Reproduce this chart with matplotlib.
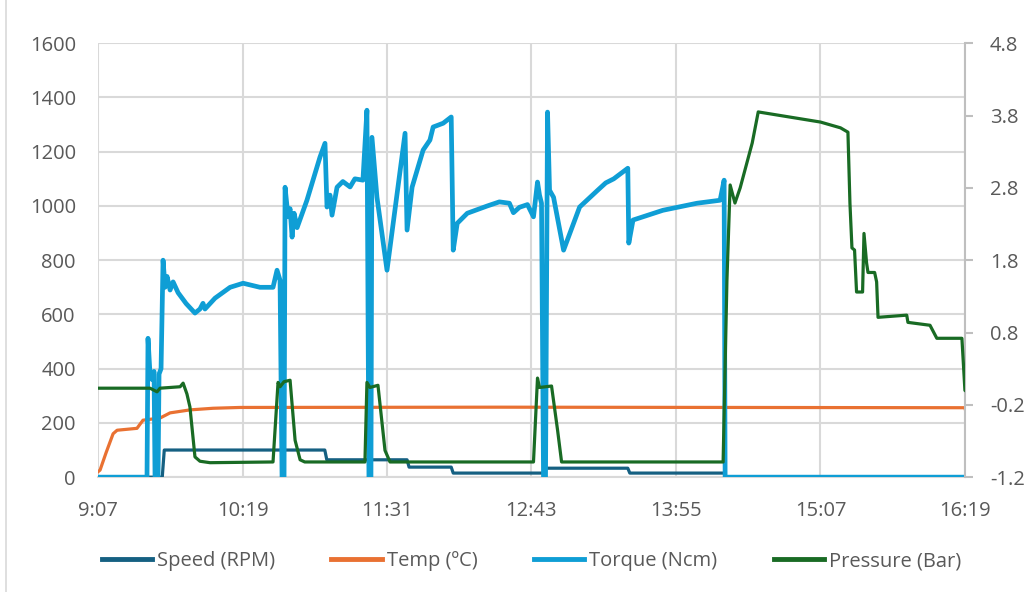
import matplotlib.pyplot as plt
from matplotlib.lines import Line2D

plt.rcParams['font.family'] = ['Open Sans', 'DejaVu Sans']

# time in minutes after 9:07
speed_t = [0, 32, 33, 113, 114, 154, 155, 176, 177, 222, 223, 264, 265, 312, 313, 432]
speed_v = [0, 0, 100, 100, 64, 64, 37, 37, 15, 15, 33, 33, 15, 15, 0, 0]

temp_t = [0, 1, 4, 7.5, 9.5, 19.4, 22.4, 30.9, 35.9, 45.8, 57.3, 70.8, 200, 432, 432.5]
temp_v = [20, 26, 90, 160, 173, 180, 210, 218, 237, 248, 254, 257, 258, 256, 240]

torque_t = [0, 24.4, 24.9, 25.9, 26.9, 27.9, 28.4, 29.9, 30.4, 31.4, 32.4, 33.4, 34.4,
            35.9, 37.4, 39.9, 43.9, 48.3, 50.8, 52.3, 53.3, 58.3, 65.8, 72.3, 80.7,
            87.2, 89.2, 90.7, 91.7, 92.7, 93.2, 94.7, 95.7, 96.7, 97.7, 99.2, 104.1,
            110.6, 113.1, 114.1, 115.6, 116.6, 119.1, 122, 125.6, 128, 132, 134, 135, 136,
            136.5, 139, 144, 153, 154, 156.5, 162, 165.4, 167, 172, 176, 177, 179,
            184, 194, 200, 205, 207, 210, 214, 217, 219, 220, 221, 222, 223, 224, 225, 227, 232,
            240, 249, 253, 257, 264, 264.5, 266.6, 281.5, 298.5, 310, 312, 312.5, 432]
torque_v = [0, 0, 512, 380, 360, 390, 0, 0, 380, 400, 800, 700, 740,
            690, 720, 680, 640, 605, 620, 641, 620, 660, 700, 715, 700,
            700, 763, 726, 0, 0, 1069, 960, 990, 885, 973, 920, 1021,
            1180, 1231, 996, 1040, 966, 1069, 1090, 1070, 1100, 1095, 1353, 0, 0,
            1253, 1032, 763, 1268, 911, 1069, 1206, 1243, 1291, 1305, 1328, 837, 936,
            973, 1000, 1015, 1010, 975, 995, 1005, 960, 1088, 1040, 1010, 0, 0, 1346, 1058, 1032, 837,
            996, 1058, 1085, 1100, 1139, 863, 948, 984, 1010, 1021, 1095, 0, 0]

pres_t = [0, 25.9, 29.4, 30.9, 40.9, 42.4, 44.3, 45.8, 48.3, 50.8, 55.8, 87.2,
          89.7, 90.7, 92.7, 95.7, 98.2, 100.7, 103, 133, 134, 135.5, 139.5, 143,
          145.5, 217, 219, 220, 226, 229, 231, 311.5, 313.4, 315, 317.4, 320, 326,
          329, 360, 370, 373.7, 374.7, 375.7, 377, 378, 381, 381.7, 383, 383.7,
          387, 388, 388.7, 403, 403.6, 414.6, 418, 430.5, 432, 433]
pres_v = [0.03, 0.03, -0.02, 0.03, 0.05, 0.10, -0.05, -0.23, -0.92, -0.98, -1.0, -0.99,
          0.11, 0.05, 0.12, 0.14, -0.69, -0.96, -0.99, -0.99, 0.11, 0.04, 0.07, -0.83,
          -0.99, -0.99, 0.17, 0.04, 0.06, -0.55, -0.99, -0.99, 1.52, 2.84, 2.59, 2.80, 3.42,
          3.85, 3.71, 3.63, 3.57, 2.59, 1.97, 1.94, 1.36, 1.36, 2.17, 1.76, 1.63,
          1.63, 1.50, 1.01, 1.04, 0.94, 0.90, 0.72, 0.72, 0.00, -0.02]

tick_labels = ['9:07', '10:19', '11:31', '12:43', '13:55', '15:07', '16:19']

c_speed = '#156082'
c_temp = '#E97132'
c_torque = '#0F9ED5'
c_pres = '#196B24'
grid_c = '#D9D9D9'
text_c = '#595959'

fig = plt.figure(figsize=(10.32, 5.92), dpi=100)
ax = fig.add_axes([0.095, 0.194, 0.84, 0.733])
ax2 = ax.twinx()

lw = 2.3
ax.plot(speed_t, speed_v, color=c_speed, lw=lw, zorder=3)
ax.plot(temp_t, temp_v, color=c_temp, lw=lw, zorder=3)
ax.plot(torque_t, torque_v, color=c_torque, lw=3.4, zorder=3)
ax2.plot(pres_t, pres_v, color=c_pres, lw=lw, zorder=3)

ax.set_xlim(0, 432)
ax.set_ylim(0, 1600)
ax2.set_ylim(-1.2, 4.8)

ax.set_xticks([72 * i for i in range(len(tick_labels))])
ax.set_xticklabels(tick_labels)
ax.set_yticks(range(0, 1601, 200))
ax2.set_yticks([-1.2, -0.2, 0.8, 1.8, 2.8, 3.8, 4.8])
ax2.set_yticklabels(['-1.2', '-0.2', '0.8', '1.8', '2.8', '3.8', '4.8'])

ax.grid(True, color=grid_c, lw=1.5)
ax.set_axisbelow(True)
for s in ['top', 'left', 'right']:
    ax.spines[s].set_visible(False)
ax.spines['bottom'].set_color(grid_c)
ax.spines['bottom'].set_linewidth(1.5)
for s in ['top', 'left', 'bottom']:
    ax2.spines[s].set_visible(False)
ax2.spines['right'].set_color('#BFBFBF')
ax2.spines['right'].set_linewidth(1.5)

ax.tick_params(axis='both', length=0, labelsize=14.5, labelcolor=text_c)
ax.tick_params(axis='x', pad=17)
ax.tick_params(axis='y', pad=16)
ax2.tick_params(axis='y', length=6, width=1.5, color='#BFBFBF', labelsize=14.5,
                labelcolor=text_c, pad=12)

handles = [Line2D([], [], color=c, lw=3.5) for c in [c_speed, c_temp, c_torque, c_pres]]
labels = ['Speed (RPM)', 'Temp (ºC)', 'Torque (Ncm)', 'Pressure (Bar)']
fig.legend(handles, labels, loc='center', bbox_to_anchor=(0.515, 0.052), ncol=4,
           frameon=False, fontsize=14.5, labelcolor=text_c, handlelength=2.5,
           handletextpad=0.25, columnspacing=2.8)

fig.add_artist(Line2D([0.006, 0.006], [0, 1], transform=fig.transFigure,
                      color='#D9D9D9', lw=1.2))

fig.savefig('out.png', dpi=100)
